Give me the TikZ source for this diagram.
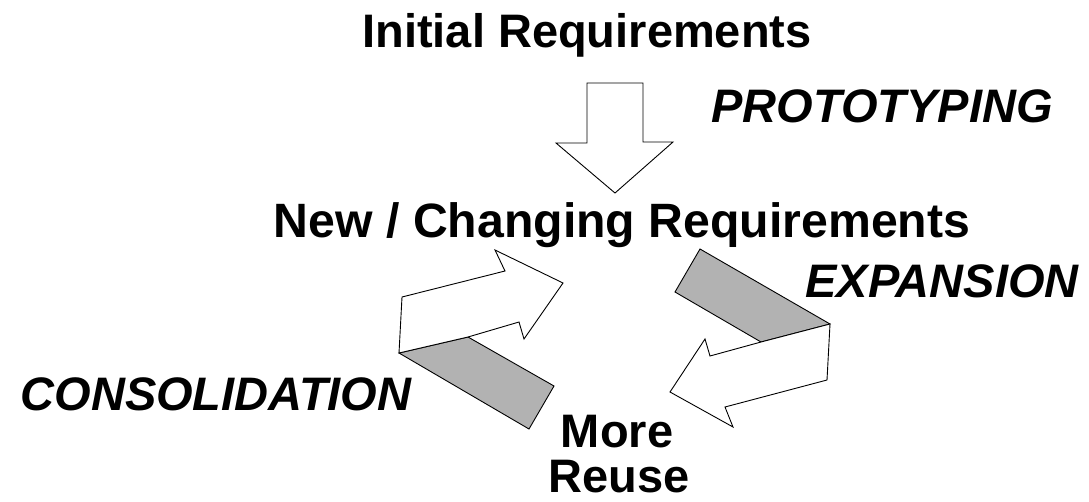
\documentclass[tikz,border=0pt]{standalone}
\usepackage{fontspec}
\setmainfont{Liberation Sans}
\begin{document}
\begin{tikzpicture}[x=1pt,y=-1pt,
  lbl/.style={font=\fontsize{47}{47}\selectfont\bfseries, inner sep=0pt, anchor=base},
  ilbl/.style={font=\fontsize{47}{47}\selectfont\bfseries\itshape, inner sep=0pt, anchor=base},
  blockarrow/.style={draw=black, line width=0.9pt, fill=white, line join=miter},
  band/.style={draw=black, line width=0.9pt, fill=black!30, line join=miter}]
\useasboundingbox (0,0) rectangle (1089,501);
% texts
\node[lbl] (init) at (587,47) {Initial Requirements};
\node[ilbl] (proto) at (882,122) {PROTOTYPING};
\node[lbl, font=\fontsize{48.2}{48}\selectfont\bfseries] (new) at (622,237) {New / Changing Requirements};
\node[ilbl] (exp) at (942,297) {EXPANSION};
\node[ilbl] (cons) at (216,410) {CONSOLIDATION};
\node[lbl] (more) at (617,447) {More};
\node[lbl] (reuse) at (619,492) {Reuse};
% down arrow (prototyping)
\draw[blockarrow] (587,83) -- (643,83) -- (643,142) -- (673,142) -- (615,193) -- (556,143) -- (587,143) -- cycle;
% consolidation arrow
\draw[band] (399,353) -- (468,337) -- (554,386) -- (529,429) -- cycle;
\draw[blockarrow] (399,353) -- (402,297) -- (505,271) -- (495,250) -- (563,283) -- (524,339) -- (519,322) -- (468,337) -- cycle;
% expansion arrow
\draw[band] (700,249) -- (830,324) -- (761,342) -- (675,292) -- cycle;
\draw[blockarrow] (830,324) -- (827,380) -- (725,407) -- (733,427) -- (670,392) -- (705,339) -- (710,356) -- (761,342) -- cycle;
\end{tikzpicture}
\end{document}
